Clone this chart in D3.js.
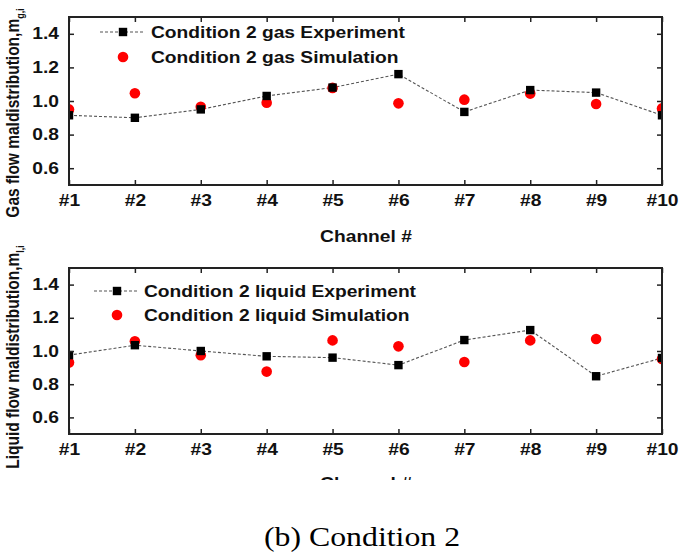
<!DOCTYPE html>
<html><head><meta charset="utf-8">
<script src="https://cdn.jsdelivr.net/npm/d3@7"></script>
<style>body{margin:0;background:#fff}svg{display:block}</style>
</head><body>
<svg id="c" width="679" height="556"></svg>
<script>
const channels = ["#1","#2","#3","#4","#5","#6","#7","#8","#9","#10"];
const yTicks = [0.6, 0.8, 1.0, 1.2, 1.4];
const gasExperiment = [0.915, 0.90, 0.95, 1.03, 1.08, 1.16, 0.935, 1.065, 1.05, 0.915];
const gasSimulation = [0.95, 1.046, 0.966, 0.99, 1.078, 0.986, 1.008, 1.044, 0.982, 0.956];
const liquidExperiment = [0.975, 1.035, 1.0, 0.968, 0.96, 0.915, 1.066, 1.126, 0.848, 0.958];
const liquidSimulation = [0.93, 1.058, 0.975, 0.876, 1.064, 1.028, 0.934, 1.064, 1.072, 0.952];

const svg = d3.select("#c");
const W = 679, H = 556;
const left = 69, right = 662;
const SX = 1.2; // horizontal stretch of the original figure
const x = d3.scalePoint().domain(channels).range([left, right]);
const FONT = "Arial, 'Liberation Sans', Helvetica, sans-serif";

function stretch(sel) {
  sel.each(function () {
    const w = this.getComputedTextLength();
    d3.select(this).attr("textLength", w * SX).attr("lengthAdjust", "spacingAndGlyphs");
  });
}

function panel(cfg) {
  const {top, bottom, exp, sim, expLabel, simLabel, yLabel, sub, legY, id, clipBottom} = cfg;
  const y = d3.scaleLinear().domain([0.5, 1.5]).range([bottom, top]);
  const g = svg.append("g");
  const clipId = "clip" + id;
  const defs = svg.append("defs");
  defs.append("clipPath").attr("id", clipId)
    .append("rect").attr("x", left).attr("y", top).attr("width", right - left).attr("height", bottom - top);

  const line = d3.line().x((d, i) => x(channels[i])).y(d => y(d));
  const dg = g.append("g").attr("clip-path", `url(#${clipId})`);
  dg.append("path").datum(exp).attr("d", line).attr("fill", "none")
    .attr("stroke", "#555").attr("stroke-width", 1.1).attr("stroke-dasharray", "3,2");
  dg.selectAll("circle").data(sim).join("circle")
    .attr("cx", (d, i) => x(channels[i])).attr("cy", d => y(d)).attr("r", 5.3).attr("fill", "#ff0000");
  dg.selectAll("rect.sq").data(exp).join("rect").attr("class", "sq")
    .attr("x", (d, i) => x(channels[i]) - 4.2).attr("y", d => y(d) - 4.2)
    .attr("width", 8.4).attr("height", 8.4).attr("fill", "#000");

  const axB = d3.axisBottom(x).tickSizeInner(-5).tickSizeOuter(0).tickPadding(10);
  const axT = d3.axisTop(x).tickSizeInner(-5).tickSizeOuter(0).tickFormat("");
  const axL = d3.axisLeft(y).tickValues(yTicks).tickFormat(d3.format(".1f")).tickSizeInner(-5).tickSizeOuter(0).tickPadding(10);
  const axR = d3.axisRight(y).tickValues(yTicks).tickFormat("").tickSizeInner(-5).tickSizeOuter(0);
  const style = sel => {
    sel.selectAll("path.domain").remove();
    sel.selectAll("line").attr("stroke", "#222").attr("stroke-width", 1.5);
    sel.selectAll("text").attr("fill", "#111").style("font-family", FONT).style("font-weight", "bold").style("font-size", "16px")
      .call(stretch);
  };
  g.append("g").attr("transform", `translate(0,${bottom})`).call(axB).call(style);
  g.append("g").attr("transform", `translate(0,${top})`).call(axT).call(style);
  g.append("g").attr("transform", `translate(${left},0)`).call(axL).call(style);
  g.append("g").attr("transform", `translate(${right},0)`).call(axR).call(style);
  g.append("rect").attr("x", left).attr("y", top).attr("width", right - left).attr("height", bottom - top)
    .attr("fill", "none").attr("stroke", "#222").attr("stroke-width", 2);

  const xl = g.append("g");
  if (clipBottom) {
    defs.append("clipPath").attr("id", clipId + "x")
      .append("rect").attr("x", 0).attr("y", 0).attr("width", W).attr("height", clipBottom);
    xl.attr("clip-path", `url(#${clipId}x)`);
  }
  xl.append("text").attr("x", 366).attr("y", bottom + cfg.xLabelOff).attr("text-anchor", "middle")
    .style("font-family", FONT).style("font-weight", "bold").style("font-size", "16px").attr("fill", "#111")
    .text("Channel #").call(stretch);

  const yt = g.append("text").attr("transform", `translate(19,${cfg.yLabelCenter}) rotate(-90) scale(1,${SX})`)
    .attr("text-anchor", "middle")
    .style("font-family", FONT).style("font-weight", "bold").style("font-size", "15.5px").attr("fill", "#111");
  yt.append("tspan").text(yLabel);
  yt.append("tspan").attr("dy", 4).style("font-size", "9px").text(sub);

  const lg = g.append("g");
  lg.append("line").attr("x1", cfg.legX - 23).attr("x2", cfg.legX + 20).attr("y1", legY[0]).attr("y2", legY[0])
    .attr("stroke", "#555").attr("stroke-width", 1.1).attr("stroke-dasharray", "3,2");
  lg.append("rect").attr("x", cfg.legX - 4.2).attr("y", legY[0] - 4.2).attr("width", 8.4).attr("height", 8.4).attr("fill", "#000");
  lg.append("circle").attr("cx", cfg.legX).attr("cy", legY[1]).attr("r", 5.3).attr("fill", "#ff0000");
  [expLabel, simLabel].forEach((t, i) => {
    lg.append("text").attr("x", cfg.legTextX).attr("y", legY[i]).attr("dy", "0.36em")
      .style("font-family", FONT).style("font-weight", "bold").style("font-size", "16px").attr("fill", "#111").text(t)
      .call(stretch);
  });
}

panel({id: "a", top: 17, bottom: 185, exp: gasExperiment, sim: gasSimulation,
  expLabel: "Condition 2 gas Experiment", simLabel: "Condition 2 gas Simulation",
  yLabel: "Gas flow maldistribution,m", sub: "g,i", legY: [32, 57], legX: 123, legTextX: 151, yLabelCenter: 113, xLabelOff: 57});
panel({id: "b", top: 268, bottom: 434, exp: liquidExperiment, sim: liquidSimulation,
  expLabel: "Condition 2 liquid Experiment", simLabel: "Condition 2 liquid Simulation",
  yLabel: "Liquid flow maldistribution,m", sub: "l,i", legY: [291, 315], legX: 117, legTextX: 144, yLabelCenter: 357,
  xLabelOff: 55, clipBottom: 480});

svg.append("text").attr("x", 362).attr("y", 546).attr("text-anchor", "middle")
  .style("font-family", "'Times New Roman', 'Liberation Serif', serif").style("font-size", "26.5px").attr("fill", "#000")
  .text("(b) Condition 2").call(stretch);
</script>
</body></html>
